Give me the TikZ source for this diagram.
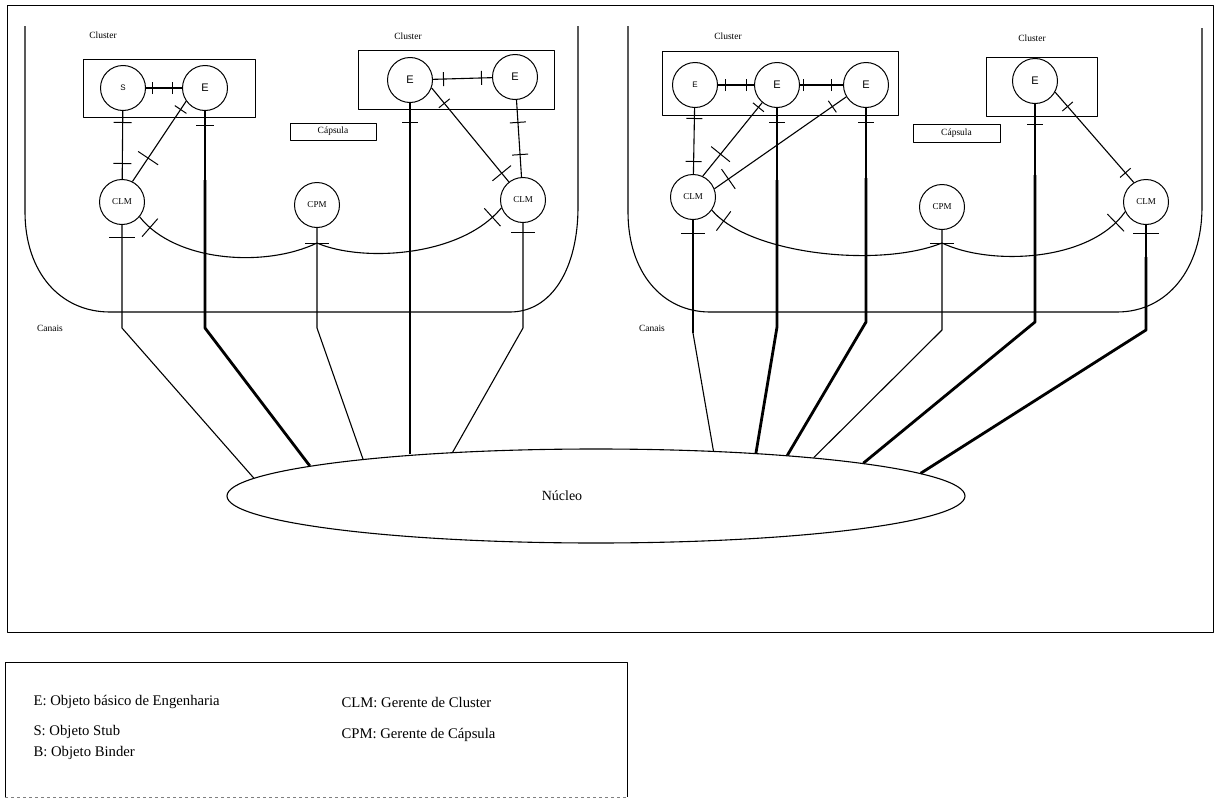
\documentclass[tikz,border=0pt]{standalone}
\usepackage{fontspec}
\setmainfont{Liberation Serif}
\newfontfamily\arialf{Liberation Sans}
\usetikzlibrary{shapes.geometric,decorations.markings}
\tikzset{
  tk/.style 2 args={postaction={decorate,decoration={markings,mark=at position #1 with {\draw[line width=1pt,solid] (0pt,-#2pt) -- (0pt,#2pt);}}}},
  ln/.style={line width=1.1pt},
  thk/.style={line width=2.8pt},
  obj/.style={circle,draw,line width=1pt,minimum size=45pt,inner sep=0pt},
  ebig/.style={obj,font=\arialf\fontsize{11}{11}\selectfont},
  esmall/.style={obj,font=\arialf\fontsize{8}{8}\selectfont},
  small/.style={font=\fontsize{9.5}{11}\selectfont},
  mgr/.style={obj,font=\fontsize{9}{10}\selectfont},
  boxl/.style={line width=0.9pt},
  leg/.style={anchor=west,font=\fontsize{14.7}{16}\selectfont}
}
\begin{document}
\begin{tikzpicture}[x=1pt,y=-1pt,line join=round]
\useasboundingbox (0,0) rectangle (1219,803);
% outer frame
\draw[line width=1pt] (7,5) rectangle (1213,632);
% capsules
\draw[ln] (25,26) -- (25,212) .. controls (25,272) and (60,312) .. (110,312) -- (510,312) .. controls (552,312) and (578,268) .. (578,207) -- (578,26);
\draw[ln] (628,26) -- (628,212) .. controls (628,272) and (662,312) .. (710,312) -- (1117,312) .. controls (1168,312) and (1202,268) .. (1202,207) -- (1202,28);
% cluster boxes
\draw[boxl] (83,59) rectangle (255,117);
\draw[boxl] (358,50) rectangle (554,109);
\draw[boxl] (662,51) rectangle (898,115);
\draw[boxl] (986,57) rectangle (1097,116);
% labels
\node[small] (cl1) at (103,35) {Cluster};
\node[small] (cl2) at (408,36) {Cluster};
\node[small] (cl3) at (728,36) {Cluster};
\node[small] (cl4) at (1032,38) {Cluster};
\node[small] (ca1) at (50,328) {Canais};
\node[small] (ca2) at (652,328) {Canais};
\node[small,draw,boxl,minimum width=86pt,minimum height=17pt,inner sep=0pt] (cap1) at (333,131.5) {Cápsula};
\node[small,draw,boxl,minimum width=87pt,minimum height=18pt,inner sep=0pt] (cap2) at (956.5,133) {Cápsula};
% objects
\node[esmall] (S1) at (123,88) {S};
\node[ebig] (E1) at (205,88) {E};
\node[mgr] (CLM1) at (122,202) {CLM};
\node[mgr] (CPM1) at (317,205) {CPM};
\node[ebig] (E2) at (410,80) {E};
\node[ebig] (E3) at (515,77) {E};
\node[mgr] (CLM2) at (523,200) {CLM};
\node[esmall] (E4) at (695,85) {E};
\node[ebig] (E5) at (777,85) {E};
\node[ebig] (E6) at (866,85) {E};
\node[mgr] (CLM3) at (693,197) {CLM};
\node[mgr] (CPM2) at (942,207) {CPM};
\node[ebig] (E7) at (1035,81) {E};
\node[mgr] (CLM4) at (1146,202) {CLM};
% nucleus
\node[ellipse,draw,line width=1.1pt,minimum width=738pt,minimum height=94pt,inner sep=0pt] (nuc) at (596,496) {};
\node[font=\fontsize{14}{16}\selectfont] (nuct) at (562,496) {Núcleo};
% coordinates
\coordinate (b1) at (122,328);
\coordinate (k2) at (205,180);
\coordinate (b2) at (205,328);
\coordinate (b3) at (317,328);
\coordinate (k4) at (410,173);
\coordinate (b5) at (523,328);
\coordinate (j1) at (317,243);
\coordinate (ka) at (693,263);
\coordinate (ba) at (693,333);
\coordinate (kb) at (777,180);
\coordinate (bb) at (777,327);
\coordinate (kc) at (866,178);
\coordinate (bc) at (866,322);
\coordinate (bd) at (942,330);
\coordinate (ke) at (1035,175);
\coordinate (be) at (1035,322);
\coordinate (kf) at (1146,257);
\coordinate (bf) at (1146,330);
\coordinate (j2) at (942,243);
% left capsule connectors
\draw[ln,tk={6.5pt}{6},tk={-9.5pt}{6}] (S1) -- (E1);
\draw[ln,tk={11.5pt}{9},tk={-15.5pt}{9}] (S1) -- (CLM1);
\draw[ln,tk={10pt}{7},tk={-28pt}{12}] (E1.215) -- (CLM1.63);
\draw[ln,tk={14.5pt}{9}] (E1) -- (k2);
\draw[thk] (k2) -- (b2) -- (nuc.174);
\draw[ln,tk={12.5pt}{13}] (CLM1) -- (b1) -- (nuc.177);
\draw[ln,tk={15.5pt}{12}] (CPM1) -- (b3) -- (nuc.171);
\draw[ln,tk={15pt}{12}] (CLM1.-40) .. controls (175,262) and (265,268) .. (j1);
\draw[ln,tk={-13pt}{12}] (j1) .. controls (360,262) and (460,258) .. (CLM2.200);
\draw[ln,tk={10.5pt}{7},tk={-10.5pt}{7}] (E2) -- (E3);
\draw[ln,tk={19.5pt}{8}] (E2) -- (k4);
\draw[thk] (k4) -- (k4 |- nuc.167);
\draw[ln,tk={20pt}{7},tk={-11pt}{12}] (E2.-20) -- (CLM2.128);
\draw[ln,tk={22.5pt}{8},tk={-22.5pt}{8}] (E3) -- (CLM2);
\draw[ln,tk={9.5pt}{12}] (CLM2) -- (b5) -- (nuc.163);
% right capsule connectors
\draw[ln,tk={7.5pt}{6},tk={-7.5pt}{6}] (E4) -- (E5);
\draw[ln,tk={3.5pt}{6},tk={-11.5pt}{6}] (E5) -- (E6);
\draw[ln,tk={10.5pt}{8},tk={-12.5pt}{8}] (E4) -- (CLM3);
\draw[ln,tk={6pt}{7},tk={-28pt}{12}] (E5.230) -- (CLM3.65);
\draw[ln,tk={17pt}{7},tk={-17pt}{12}] (E6.211) -- (CLM3.21);
\draw[ln,tk={13.5pt}{12}] (CLM3) -- (ka);
\draw[line width=2pt] (ka) -- (ba);
\draw[ln] (ba) -- (nuc.21);
\draw[ln,tk={14.5pt}{8}] (E5) -- (kb);
\draw[thk] (kb) -- (bb) -- (nuc.15);
\draw[ln,tk={14.5pt}{8}] (E6) -- (kc);
\draw[thk] (kc) -- (bc) -- (nuc.12);
\draw[ln,tk={13.5pt}{12}] (CPM2) -- (bd) -- (nuc.10);
\draw[ln,tk={20.5pt}{8}] (E7) -- (ke);
\draw[thk] (ke) -- (be) -- (nuc.7);
\draw[ln,tk={19pt}{7},tk={-12.5pt}{7}] (E7.-29) -- (CLM4.122);
\draw[ln,tk={8.5pt}{13}] (CLM4) -- (kf);
\draw[thk] (kf) -- (bf) -- (nuc.4);
\draw[ln,tk={16pt}{12}] (CLM3.-35) .. controls (750,255) and (880,268) .. (j2);
\draw[ln,tk={-14.5pt}{12}] (j2) .. controls (990,266) and (1090,262) .. (CLM4.205);
% legend
\draw[boxl] (5,797) -- (5,662) -- (627,662) -- (627,797);
\draw[gray,dashed] (5,797) -- (627,797);
\node[leg] (l1) at (30,702) {E: Objeto básico de Engenharia};
\node[leg] (l2) at (30,732) {S: Objeto Stub};
\node[leg] (l3) at (30,753) {B: Objeto Binder};
\node[leg] (l4) at (338,702) {CLM: Gerente de Cluster};
\node[leg] (l5) at (338,735) {CPM: Gerente de Cápsula};
\end{tikzpicture}
\end{document}
